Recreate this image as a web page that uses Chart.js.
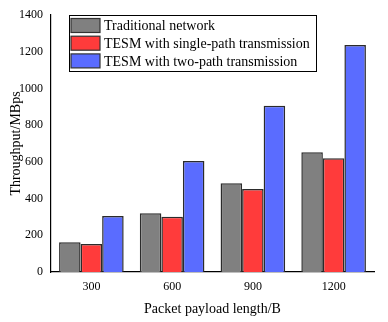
<!DOCTYPE html>
<html>
<head>
<meta charset="utf-8">
<script src="https://cdn.jsdelivr.net/npm/chart.js@4"></script>
<style>
  html, body { margin: 0; padding: 0; background: #fff; }
  #wrap { width: 388px; height: 322px; }
</style>
</head>
<body>
<div id="wrap"><canvas id="grafico" width="388" height="322"></canvas></div>
<script>
// Datos
const longitudes = ['300', '600', '900', '1200'];
const tradicional = [162, 320, 483, 652];
const unCamino = [152, 301, 452, 619];
const dosCaminos = [305, 605, 905, 1236];
const ticksY = [0, 200, 400, 600, 800, 1000, 1200, 1400];

const fuente = '"Liberation Serif", "Times New Roman", serif';

// Leyenda dibujada dentro del area del grafico
const leyendaInterna = {
  id: 'leyendaInterna',
  afterDraw(chart) {
    const ctx = chart.ctx;
    const x0 = 69, y0 = 15, w = 247, h = 56;
    ctx.save();
    ctx.fillStyle = '#fff';
    ctx.fillRect(x0, y0, w, h);
    ctx.strokeStyle = '#000';
    ctx.lineWidth = 1;
    ctx.strokeRect(x0 + 0.5, y0 + 0.5, w, h);
    ctx.font = '14px ' + fuente;
    ctx.textBaseline = 'middle';
    chart.data.datasets.forEach((ds, i) => {
      const cy = 25.5 + i * 17.7;
      ctx.fillStyle = ds.backgroundColor;
      ctx.fillRect(71, cy - 7, 29, 14);
      ctx.strokeStyle = '#333';
      ctx.lineWidth = 1.2;
      ctx.strokeRect(71, cy - 7, 29, 14);
      ctx.fillStyle = '#000';
      ctx.fillText(ds.label, 104, cy + 1);
    });
    ctx.restore();
  }
};

new Chart(document.getElementById('grafico').getContext('2d'), {
  type: 'bar',
  data: {
    labels: longitudes,
    datasets: [{
      label: 'Traditional network',
      data: tradicional,
      backgroundColor: '#808080',
      borderColor: '#2b2b2b',
      borderWidth: 1.5
    }, {
      label: 'TESM with single-path transmission',
      data: unCamino,
      backgroundColor: '#ff3b3b',
      borderColor: '#2b2b2b',
      borderWidth: 1.5
    }, {
      label: 'TESM with two-path transmission',
      data: dosCaminos,
      backgroundColor: '#5a6cff',
      borderColor: '#2b2b2b',
      borderWidth: 1.5
    }]
  },
  options: {
    responsive: false,
    animation: false,
    layout: { padding: { top: 15, right: 14, left: 4, bottom: 0 } },
    plugins: {
      legend: { display: false },
      tooltip: { enabled: false }
    },
    datasets: {
      bar: { categoryPercentage: 0.8, barPercentage: 1.0 }
    },
    scales: {
      x: {
        grid: { display: false, drawTicks: true, tickLength: 4, color: '#000' },
        border: { color: '#000', width: 1.2 },
        ticks: { color: '#000', font: { family: fuente, size: 12 }, padding: 4 },
        title: {
          display: true,
          text: 'Packet payload length/B',
          color: '#000',
          font: { family: fuente, size: 14 },
          padding: { top: 2 }
        },
        afterFit(s) { s.height = 50; }
      },
      y: {
        min: 0,
        max: 1400,
        afterBuildTicks(s) { s.ticks = ticksY.map(v => ({ value: v })); },
        grid: { display: false, drawTicks: true, tickLength: 5, color: '#000' },
        border: { color: '#000', width: 1.2 },
        ticks: {
          color: '#000',
          font: { family: fuente, size: 12 },
          padding: 3,
          callback: v => String(v)
        },
        title: {
          display: true,
          text: 'Throughput/MBps',
          color: '#000',
          font: { family: fuente, size: 14 },
          padding: { bottom: 4 }
        },
        afterFit(s) { s.width = 47; }
      }
    }
  },
  plugins: [leyendaInterna]
});
</script>
</body>
</html>
